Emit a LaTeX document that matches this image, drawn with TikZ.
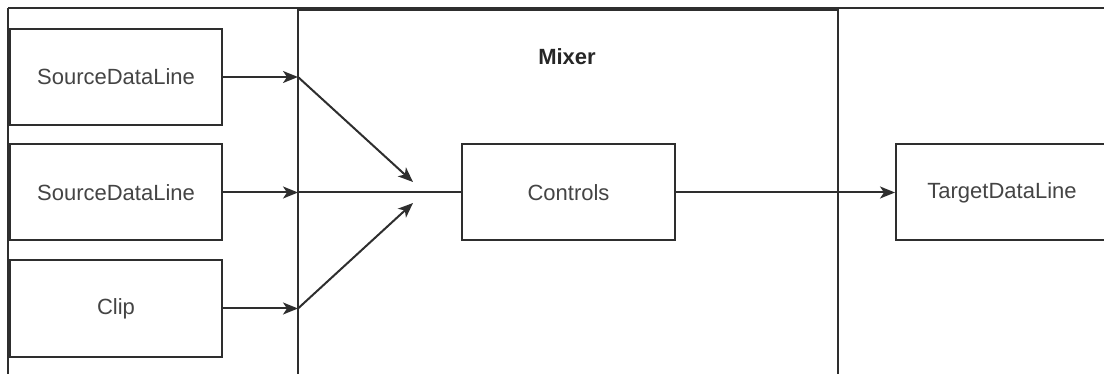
\documentclass[tikz,border=0pt]{standalone}
\usepackage{fontspec}
\setmainfont{Liberation Sans}
\usetikzlibrary{arrows.meta}
\definecolor{ink}{HTML}{2E2E2E}
\definecolor{txt}{HTML}{444444}
\tikzset{
  box/.style={draw=ink, line width=2pt, fill=white, minimum width=212pt,
    minimum height=96pt, inner sep=0pt, text=txt, font=\fontsize{22}{26}\selectfont},
  wire/.style={draw=ink, line width=2pt},
  arr/.style={wire, -{Stealth[length=15pt,width=12pt,inset=4pt]}},
}
\begin{document}
\begin{tikzpicture}[x=1pt,y=-1pt]
  \useasboundingbox (0,0) rectangle (1104,374);
  % outer frame and mixer block
  \draw[draw=ink, line width=1.5pt] (8,8) -- (1120,8);
  \draw[draw=ink, line width=1.5pt] (8,8) -- (8,390);
  \draw[draw=ink, line width=2pt] (298,10) rectangle (838,400);
  \node[text=black!85, font=\bfseries\fontsize{22}{26}\selectfont] (mixer) at (567,57) {Mixer};

  % inputs
  \node[box] (s1) at (116,77) {SourceDataLine};
  \node[box] (s2) at (116,192.5) {SourceDataLine};
  \node[box] (clip) at (116,308.5) {Clip};

  % mixer controls and output
  \node[box, minimum width=213pt] (ctl) at (568.5,192.5) {Controls};
  \node[box] (tgt) at (1002,192.5) {TargetDataLine};

  % entry points on the mixer boundary
  \coordinate (in1) at (298,77);
  \coordinate (in2) at (298,192.5);
  \coordinate (in3) at (298,308.5);
  \coordinate (m1) at (413,182);
  \coordinate (m3) at (413,203);

  \draw[arr] (s1.east) -- (in1);
  \draw[arr] (s2.east) -- (in2);
  \draw[arr] (clip.east) -- (in3);
  \draw[arr] (in1) -- (m1);
  \draw[arr] (in3) -- (m3);
  \draw[wire] (in2) -- (ctl.west);
  \draw[arr] (ctl.east) -- (tgt.west);
\end{tikzpicture}
\end{document}
